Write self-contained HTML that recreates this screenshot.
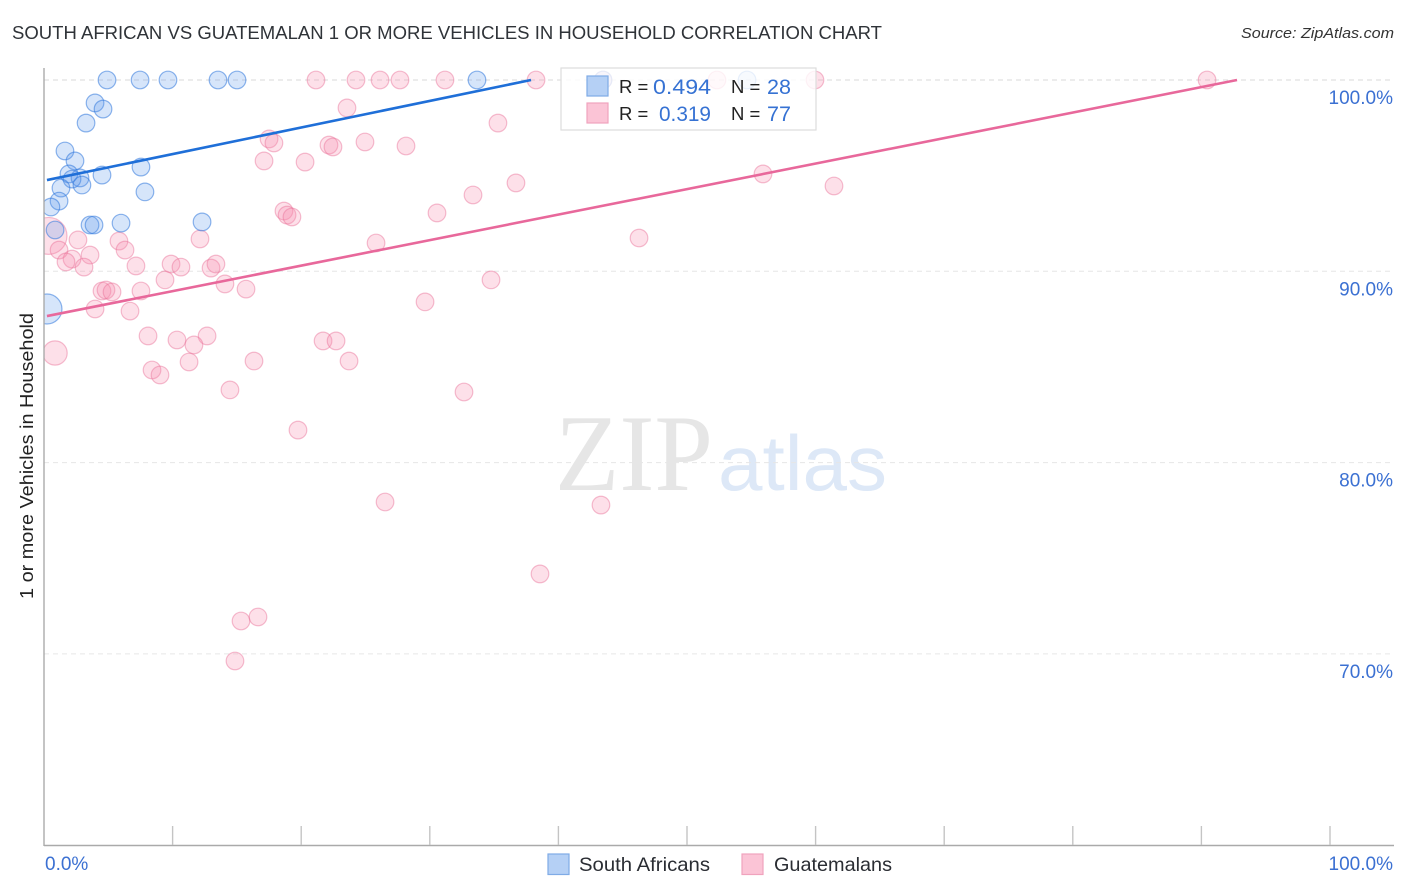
<!DOCTYPE html>
<html lang="en">
<head>
<meta charset="utf-8">
<title>South African vs Guatemalan 1 or More Vehicles in Household Correlation Chart</title>
<style>
html,body{margin:0;padding:0;background:#fff;width:1406px;height:892px;overflow:hidden}
svg{display:block;font-family:"Liberation Sans",sans-serif}
</style>
</head>
<body>
<svg id="chart" width="1406" height="892" viewBox="0 0 1406 892" xmlns="http://www.w3.org/2000/svg">
  <rect width="1406" height="892" fill="#fff"/>
  <text x="12" y="39" font-size="18.5" fill="#2f3338" textLength="870" lengthAdjust="spacingAndGlyphs">SOUTH AFRICAN VS GUATEMALAN 1 OR MORE VEHICLES IN HOUSEHOLD CORRELATION CHART</text>
  <text x="1394" y="38" font-size="15" font-style="italic" fill="#333" text-anchor="end" textLength="153" lengthAdjust="spacingAndGlyphs">Source: ZipAtlas.com</text>

  <g>
    <text x="555" y="490" font-family="'Liberation Serif',serif" font-size="109" fill="#e6e6e6" textLength="158" lengthAdjust="spacingAndGlyphs">ZIP</text>
    <text x="718" y="490" font-size="78" fill="#dde8f7" textLength="169" lengthAdjust="spacingAndGlyphs">atlas</text>
  </g>

  <g id="grid"></g>
  <g id="points"></g>
  <g id="trends"></g>
  <rect x="0" y="60" width="44" height="790" fill="#fff"/>
  <g id="axes"></g>
  <g id="tick-labels"></g>

  <text transform="translate(33,456) rotate(-90)" font-size="18.5" fill="#222" text-anchor="middle" textLength="286" lengthAdjust="spacingAndGlyphs">1 or more Vehicles in Household</text>

  <g>
    <rect x="561" y="68" width="255" height="62" fill="#fff" fill-opacity="0.8" stroke="#ddd" stroke-width="1.2"/>
    <rect x="587" y="76" width="21" height="20" fill="#b5d0f5" stroke="#7fabe6" stroke-width="1.2"/>
    <rect x="587" y="103" width="21" height="20" fill="#fbc4d6" stroke="#f0a3bd" stroke-width="1.2"/>
    <text x="619" y="93" font-size="18.5" fill="#222">R =</text>
    <text x="653" y="94" font-size="21.5" fill="#3672d3" textLength="58" lengthAdjust="spacingAndGlyphs">0.494</text>
    <text x="731" y="93" font-size="18.5" fill="#222">N =</text>
    <text x="767" y="94" font-size="21.5" fill="#3672d3" textLength="24" lengthAdjust="spacingAndGlyphs">28</text>
    <text x="619" y="120" font-size="18.5" fill="#222">R =</text>
    <text x="659" y="121" font-size="21.5" fill="#3672d3" textLength="52" lengthAdjust="spacingAndGlyphs">0.319</text>
    <text x="731" y="120" font-size="18.5" fill="#222">N =</text>
    <text x="767" y="121" font-size="21.5" fill="#3672d3" textLength="24" lengthAdjust="spacingAndGlyphs">77</text>
  </g>

  <g>
    <rect x="548" y="854" width="21" height="20.5" fill="#b5d0f5" stroke="#7fabe6" stroke-width="1.2"/>
    <text x="579" y="871" font-size="19.5" fill="#2a2d33" textLength="131" lengthAdjust="spacingAndGlyphs">South Africans</text>
    <rect x="742" y="854" width="21" height="20.5" fill="#fbc4d6" stroke="#f0a3bd" stroke-width="1.2"/>
    <text x="774" y="871" font-size="19.5" fill="#2a2d33" textLength="118" lengthAdjust="spacingAndGlyphs">Guatemalans</text>
  </g>
</svg>
<script>
const yTicks = [100, 90, 80, 70];
const yTickLabels = ['100.0%', '90.0%', '80.0%', '70.0%'];
const xTicks = [0, 10, 20, 30, 40, 50, 60, 70, 80, 90, 100];
const xTickLabels = ['0.0%', '100.0%'];

const southAfricanX = [4.9, 7.47, 9.64, 13.53, 15.01, 33.67, 43.47, 54.67, 3.97, 4.59, 3.27, 1.63, 2.41, 7.54, 1.94, 4.51, 2.8, 2.18, 2.95, 1.32, 7.85, 1.17, 0.54, 3.58, 3.89, 5.99, 12.29, 0.86, 0.23];
const southAfricanY = [100, 100, 100, 100, 100, 100, 100, 100, 98.8, 98.48, 97.75, 96.29, 95.77, 95.45, 95.09, 95.03, 94.88, 94.82, 94.51, 94.35, 94.15, 93.67, 93.36, 92.42, 92.42, 92.52, 92.58, 92.16, 88.03];
const southAfricanWeight = [1, 1, 1, 1, 1, 1, 1, 1, 1, 1, 1, 1, 1, 1, 1, 1, 1, 1, 1, 1, 1, 1, 1, 1, 1, 1, 1, 1, 2.9];

const guatemalanX = [21.15, 24.26, 26.13, 27.68, 31.18, 38.26, 43.47, 52.33, 59.95, 90.44, 23.56, 35.3, 17.5, 17.88, 22.16, 22.47, 24.96, 28.15, 17.11, 20.3, 36.7, 55.91, 61.43, 33.36, 18.66, 18.9, 19.28, 30.56, 46.27, 25.82, 12.13, 5.83, 2.64, 0.35, 1.17, 6.3, 2.18, 3.58, 1.71, 3.11, 7.15, 9.88, 10.65, 12.99, 13.37, 9.41, 34.76, 14.07, 15.71, 4.51, 4.82, 5.29, 7.54, 3.97, 6.69, 29.63, 8.09, 10.34, 12.68, 11.66, 21.7, 22.71, 0.86, 11.28, 16.33, 23.72, 8.4, 9.02, 14.46, 32.66, 19.75, 26.52, 43.31, 38.57, 15.32, 16.64, 14.85];
const guatemalanY = [100, 100, 100, 100, 100, 100, 100, 100, 100, 100, 98.54, 97.75, 96.92, 96.71, 96.6, 96.5, 96.76, 96.55, 95.77, 95.71, 94.62, 95.09, 94.46, 93.99, 93.15, 92.94, 92.84, 93.05, 91.74, 91.48, 91.69, 91.58, 91.64, 91.85, 91.11, 91.11, 90.64, 90.85, 90.49, 90.22, 90.28, 90.38, 90.22, 90.17, 90.38, 89.55, 89.55, 89.34, 89.07, 88.97, 89.02, 88.92, 88.97, 88.03, 87.92, 88.4, 86.62, 86.41, 86.62, 86.15, 86.36, 86.36, 85.73, 85.26, 85.31, 85.31, 84.84, 84.58, 83.8, 83.69, 81.7, 77.94, 77.78, 74.18, 71.72, 71.93, 69.63];
const guatemalanWeight = [1, 1, 1, 1, 1, 1, 1, 1, 1, 1, 1, 1, 1, 1, 1, 1, 1, 1, 1, 1, 1, 1, 1, 1, 1, 1, 1, 1, 1, 1, 1, 1, 1, 4.4, 1, 1, 1, 1, 1, 1, 1, 1, 1, 1, 1, 1, 1, 1, 1, 1, 1, 1, 1, 1, 1, 1, 1, 1, 1, 1, 1, 1, 1.9, 1, 1, 1, 1, 1, 1, 1, 1, 1, 1, 1, 1, 1, 1];

const southAfricanTrendX = [0.23, 37.87];
const southAfricanTrendY = [94.77, 100];
const guatemalanTrendX = [0.23, 92.77];
const guatemalanTrendY = [87.66, 100];

const NS = 'http://www.w3.org/2000/svg';
function xScale(v) { return 44 + v * 12.86; }
function yScale(v) { return 80 + (100 - v) * 19.13; }
function radius(w) { return 8.8 * Math.sqrt(w); }
function make(tag, attrs, parent) {
  const el = document.createElementNS(NS, tag);
  for (const k in attrs) el.setAttribute(k, attrs[k]);
  parent.appendChild(el);
  return el;
}

const grid = document.getElementById('grid');
const axes = document.getElementById('axes');
const labels = document.getElementById('tick-labels');
const points = document.getElementById('points');
const trends = document.getElementById('trends');

yTicks.forEach(function (t, i) {
  const g = make('line', {x1: 44, x2: 1394, y1: yScale(t), y2: yScale(t), stroke: t === 100 ? '#d9d9d9' : '#e6e6e6', 'stroke-width': 1, 'stroke-dasharray': '5 4'}, grid);
  
  
  const l = make('text', {x: 1393, y: yScale(t) + 24, 'font-size': 19, fill: '#3b70d2', 'text-anchor': 'end'}, labels);
  l.textContent = yTickLabels[i];
  
  
});

const yAxis = make('line', {x1: 44, x2: 44, y1: 68, y2: 846, stroke: '#aaa', 'stroke-width': 1.4}, axes);


const xAxis = make('line', {x1: 44, x2: 1394, y1: 845.5, y2: 845.5, stroke: '#aaa', 'stroke-width': 1.4}, axes);



xTicks.forEach(function (t) {
  if (t === 0) return;
  const k = make('line', {x1: xScale(t), x2: xScale(t), y1: 826, y2: 845, stroke: '#c4c4c4', 'stroke-width': 1.4}, axes);
  
  
});

const x0 = make('text', {x: 45, y: 870, 'font-size': 19, fill: '#3b70d2'}, labels);
x0.textContent = xTickLabels[0];


const x1 = make('text', {x: 1393, y: 870, 'font-size': 19, fill: '#3b70d2', 'text-anchor': 'end'}, labels);
x1.textContent = xTickLabels[1];



guatemalanX.forEach(function (v, i) {
  const c = make('circle', {cx: xScale(v), cy: yScale(guatemalanY[i]), r: radius(guatemalanWeight[i]), fill: 'rgba(246,140,172,0.27)', stroke: 'rgba(232,110,150,0.45)', 'stroke-width': 1.2}, points);
  
  
});
southAfricanX.forEach(function (v, i) {
  const c = make('circle', {cx: xScale(v), cy: yScale(southAfricanY[i]), r: radius(southAfricanWeight[i]), fill: 'rgba(90,150,235,0.25)', stroke: 'rgba(50,120,220,0.55)', 'stroke-width': 1.2}, points);
  
  
});

const tb = make('line', {x1: xScale(southAfricanTrendX[0]), y1: yScale(southAfricanTrendY[0]), x2: xScale(southAfricanTrendX[1]), y2: yScale(southAfricanTrendY[1]), stroke: '#1f6fd8', 'stroke-width': 2.6}, trends);


const tp = make('line', {x1: xScale(guatemalanTrendX[0]), y1: yScale(guatemalanTrendY[0]), x2: xScale(guatemalanTrendX[1]), y2: yScale(guatemalanTrendY[1]), stroke: '#e8689b', 'stroke-width': 2.6}, trends);


</script>
</body>
</html>
